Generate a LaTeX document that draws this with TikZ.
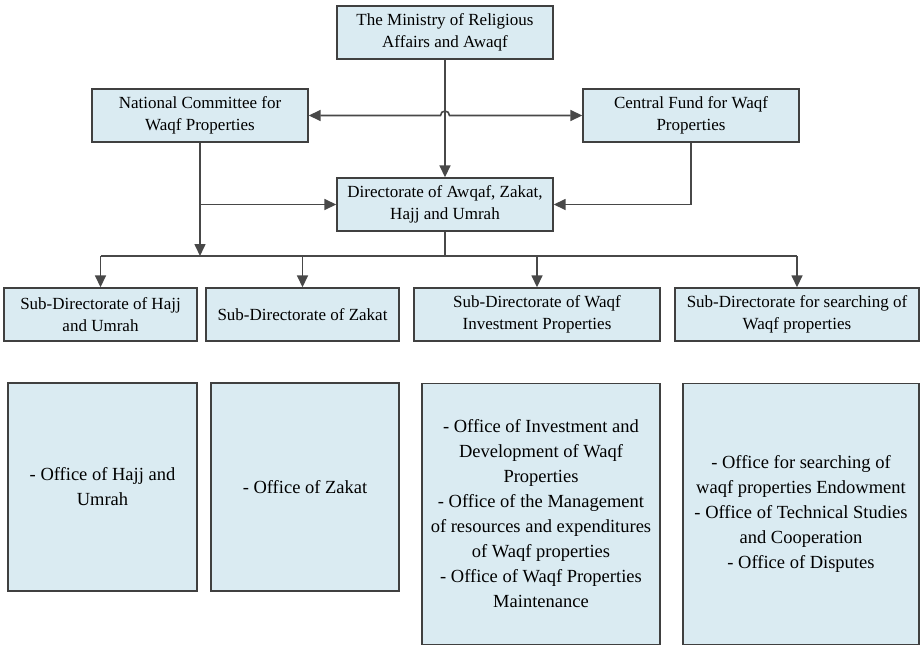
\documentclass[tikz,border=0pt]{standalone}
\usepackage{fontspec}
\setmainfont{Liberation Serif}
\newfontfamily\chartfont{Liberation Serif}
\usetikzlibrary{arrows.meta}

\definecolor{boxfill}{RGB}{218,235,242}
\definecolor{boxline}{RGB}{64,64,64}
\definecolor{linkline}{RGB}{72,72,72}

\tikzset{
  unit/.style={draw=boxline, fill=boxfill, line width=1.4pt, inner sep=2pt,
    align=center, anchor=center},
  headbox/.style={unit, minimum width=216pt, minimum height=53pt,
    font=\chartfont\fontsize{17}{22.5}\selectfont},
  subbox/.style={unit, minimum height=53pt,
    font=\chartfont\fontsize{17}{22.5}\selectfont},
  officebox/.style={unit, font=\chartfont\fontsize{18.5}{25}\selectfont},
  tip/.style={Triangle[length=12pt,width=11pt]},
  link/.style={draw=linkline, line width=1.6pt},
  arrowlink/.style={link, -{Triangle[length=12pt,width=11pt]}},
}

\begin{document}
\begin{tikzpicture}[x=1pt, y=-1pt]
  \useasboundingbox (0,0) rectangle (920,645);

  % top level
  \node[headbox] (ministry) at (445,32.5) {The Ministry of Religious\\Affairs and Awaqf};
  \node[headbox] (committee) at (200,115.5) {National Committee for\\Waqf Properties};
  \node[headbox] (fund) at (691,115.5) {Central Fund for Waqf\\Properties};
  \node[headbox] (directorate) at (445,204.5) {Directorate of Awqaf, Zakat,\\Hajj and Umrah};

  % sub-directorates
  \node[subbox, minimum width=193pt] (hajj) at (100.5,314.5) {Sub-Directorate of Hajj\\and Umrah};
  \node[subbox, minimum width=193pt] (zakat) at (302.5,314.5) {Sub-Directorate of Zakat};
  \node[subbox, minimum width=246pt] (invest) at (537,314.5) {Sub-Directorate of Waqf\\Investment Properties};
  \node[subbox, minimum width=244pt] (search) at (797,314.5) {Sub-Directorate for searching of\\Waqf properties};

  % offices
  \node[officebox, minimum width=189pt, minimum height=208pt] (ohajj) at (102.5,487)
    {- Office of Hajj and\\Umrah};
  \node[officebox, minimum width=188pt, minimum height=208pt] (ozakat) at (305,487)
    {- Office of Zakat};
  \node[officebox, minimum width=238pt, minimum height=261pt] (oinvest) at (541,514)
    {- Office of Investment and\\Development of Waqf\\Properties\\- Office of the Management\\of resources and expenditures\\of Waqf properties\\- Office of Waqf Properties\\Maintenance};
  \node[officebox, minimum width=236pt, minimum height=261pt] (osearch) at (801,514)
    {- Office for searching of\\waqf properties Endowment\\- Office of Technical Studies\\and Cooperation\\- Office of Disputes};

  % connectors
  \coordinate (bus) at (0,256);
  \coordinate (jump) at (ministry.south |- committee.east);

  \draw[arrowlink] (ministry.south) -- (directorate.north);
  \draw[link, {Triangle[length=12pt,width=11pt]}-{Triangle[length=12pt,width=11pt]}]
    (committee.east) -- ([xshift=-4.5pt]jump) arc[start angle=180, end angle=0, radius=4.5pt]
    -- (fund.west);

  \draw[arrowlink] (committee.south) -- (committee.south |- bus);
  \draw[arrowlink] (committee.south |- directorate.west) -- (directorate.west);
  \draw[arrowlink] (fund.south) |- (directorate.east);

  \draw[link] (directorate.south) -- (directorate.south |- bus);
  \draw[link] (hajj.north |- bus) -- (search.north |- bus);
  \foreach \n in {hajj, zakat, invest, search}
    \draw[arrowlink] (\n.north |- bus) -- (\n.north);
\end{tikzpicture}
\end{document}
